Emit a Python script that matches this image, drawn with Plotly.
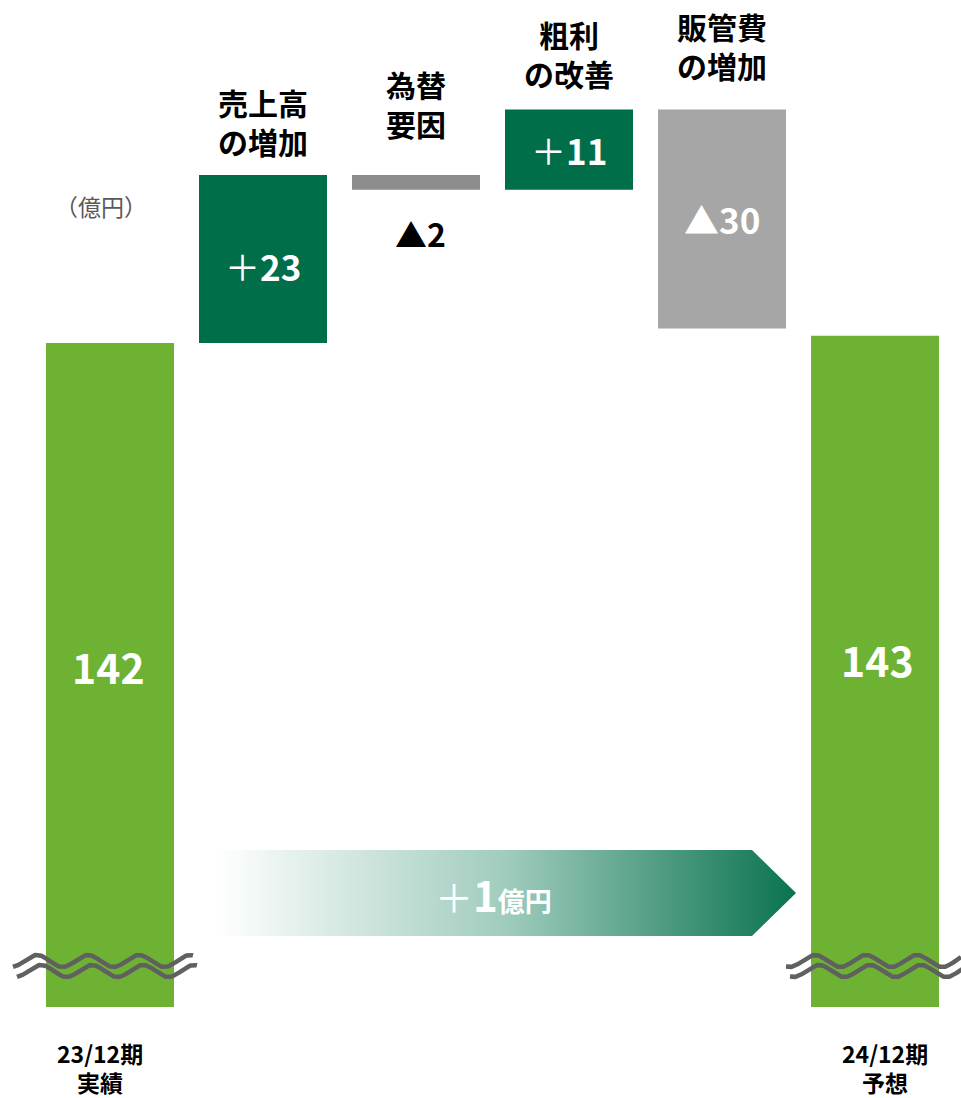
import plotly.graph_objects as go
import numpy as np

# ---------------- data ----------------
categories = ["23/12期<br>実績", "売上高<br>の増加", "為替<br>要因", "粗利<br>の改善", "販管費<br>の増加", "24/12期<br>予想"]
start_value = 142
deltas = [23, -2, 11, -30]
end_value = 143
value_labels = ["<b>142</b>", "＋<b>23</b>", "<b>▲2</b>", "＋<b>11</b>", "<b>▲30</b>", "<b>143</b>"]
change_label = "<span style='font-size:38px'>＋</span><b><span style='font-size:42px'>1</span>億円</b>"
unit_label = "（億円）"

# ---------------- styles ----------------
LIGHT_GREEN = "#6db232"
DARK_GREEN = "#006e49"
GRAY = "#8c8c8c"
LIGHT_GRAY = "#a6a6a6"
FONT = "Noto Sans CJK JP"

# compute waterfall bases
bases, heights, colors = [0], [start_value], [LIGHT_GREEN]
running = start_value
for i, d in enumerate(deltas):
    if d >= 0:
        bases.append(running); heights.append(d)
        colors.append(DARK_GREEN)
    else:
        bases.append(running + d); heights.append(-d)
        colors.append(GRAY if i == 1 else LIGHT_GRAY)
    running += d
bases.append(0); heights.append(end_value); colors.append(LIGHT_GREEN)

xs = list(range(len(categories)))

# axis scaling (broken axis: bottom part cut away)
k = 7.3  # px per unit
y_top = start_value + 343 / k
y_bot = start_value - 664 / k

fig = go.Figure()
fig.add_trace(go.Bar(
    x=xs, y=heights, base=bases, marker=dict(color=colors, line=dict(width=0)),
    width=128 / 153, hoverinfo="skip", showlegend=False,
))

# overlay pixel axes for decorations
def wave(x_start, x_end, x_peak, yc, amp, period=51):
    xx = np.linspace(x_start, x_end, 200)
    yy = yc - amp * np.cos(2 * np.pi * (xx - x_peak) / period)
    return xx, yy

for (xa, xb, xp) in [(13, 193, 37), (786, 961, 815)]:
    for dx, dy in [(0, 0), (4, 10)]:
        wx, wy = wave(xa + dx, xb + dx, xp + dx, 961 + dy, 6)
        fig.add_trace(go.Scatter(
            x=wx, y=wy, mode="lines", line=dict(color="#606060", width=4.5),
            xaxis="x2", yaxis="y2", hoverinfo="skip", showlegend=False,
        ))

# gradient arrow
ax = [215, 752, 796, 752, 215, 215]
ay = [850, 850, 893, 936, 936, 850]
fig.add_trace(go.Scatter(
    x=ax, y=ay, mode="lines", line=dict(width=0, color="rgba(0,0,0,0)"),
    fill="toself",
    fillgradient=dict(type="horizontal",
                      colorscale=[[0, "rgba(255,255,255,1)"], [0.5, "#a0ccbd"], [1, "#0a7350"]]),
    xaxis="x2", yaxis="y2", hoverinfo="skip", showlegend=False,
))

annotations = []
# value labels
for i in xs:
    b, h = bases[i], heights[i]
    if i in (0, len(xs) - 1):
        ymid = (b + h + y_bot) / 2
        annotations.append(dict(x=i, y=ymid, xref="x", yref="y", text=value_labels[i], showarrow=False,
                                yanchor="middle", yshift=9 if i == 0 else 12, xshift=-2 if i == 0 else 2,
                                font=dict(family=FONT, size=41, color="white")))
    elif i == 2:
        annotations.append(dict(x=i, y=b, xref="x", yref="y", text=value_labels[i], showarrow=False,
                                yanchor="top", yshift=-18, xshift=4,
                                font=dict(family=FONT, size=32, color="black")))
    else:
        annotations.append(dict(x=i, y=b + h / 2, xref="x", yref="y", text=value_labels[i], showarrow=False,
                                yanchor="middle", yshift=-6 if i == 1 else 0,
                                font=dict(family=FONT, size=35, color="white")))

# category labels above the change bars
label_py = {1: 121, 2: 104, 3: 54, 4: 46}
for i, py in label_py.items():
    annotations.append(dict(x=i, y=(1007 - py) / 1007, xref="x", yref="paper", text="<b>" + categories[i] + "</b>",
                            yanchor="middle", showarrow=False, font=dict(family=FONT, size=30, color="black")))

# bottom labels (one annotation per line)
for i, xs_ in [(0, -10), (len(xs) - 1, 10)]:
    for line, py in zip(categories[i].split("<br>"), (1053, 1082)):
        annotations.append(dict(x=i, y=(1007 - py) / 1007, xref="x", yref="paper", text="<b>" + line + "</b>",
                                yanchor="middle", xshift=xs_, showarrow=False,
                                font=dict(family=FONT, size=23, color="black")))

# unit label
annotations.append(dict(x=101, y=206, xref="x2", yref="y2", text=unit_label, showarrow=False,
                        yanchor="middle", font=dict(family=FONT, size=23, color="#595959")))
# arrow label
annotations.append(dict(x=493, y=893, xref="x2", yref="y2", text=change_label, showarrow=False,
                        yanchor="middle", font=dict(family=FONT, size=27, color="white")))

fig.update_layout(
    width=961, height=1098,
    margin=dict(l=0, r=0, t=0, b=91),
    paper_bgcolor="white", plot_bgcolor="white",
    xaxis=dict(range=[-110 / 153, 5 + 86 / 153], visible=False),
    yaxis=dict(range=[y_bot, y_top], visible=False),
    xaxis2=dict(range=[0, 961], overlaying="x", visible=False),
    yaxis2=dict(range=[1007, 0], overlaying="y", visible=False),
    annotations=annotations,
    showlegend=False,
)

fig.write_html("out.html")
